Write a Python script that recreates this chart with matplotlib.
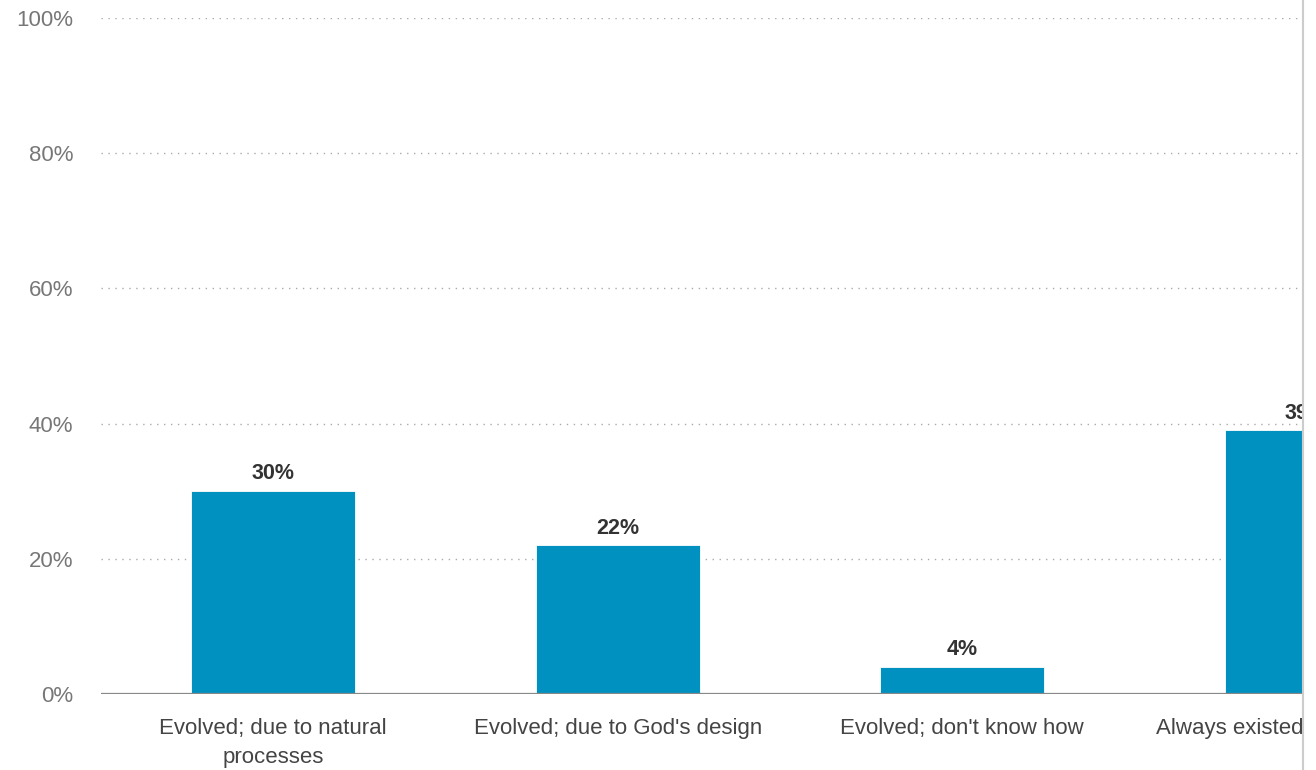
import matplotlib.pyplot as plt
from matplotlib.transforms import Bbox, blended_transform_factory
from matplotlib.lines import Line2D

categories = ["Evolved; due to natural\nprocesses", "Evolved; due to God's design",
              "Evolved; don't know how", "Always existed in present form"]
values = [30, 22, 4, 39]
yticks = [0, 20, 40, 60, 80, 100]

plt.rcParams['font.family'] = ['Liberation Sans', 'DejaVu Sans']

W, H = 1316, 770
fig = plt.figure(figsize=(W / 100, H / 100), dpi=100)
ax = fig.add_axes([101 / W, 76 / H, (1302 - 101) / W, (694 - 18) / H])

x = list(range(len(values)))
ax.bar(x, values, width=0.476, color="#0091c1", edgecolor="white", linewidth=0.6, zorder=3)

# value labels (clipped at the right edge like the original)
for xi, v in zip(x, values):
    ax.text(xi, v + 1.0, f"{v}%", ha="center", va="bottom", fontsize=15.5,
            fontweight="bold", color="#333333", clip_on=True, zorder=4)

ax.set_xlim(-0.5, 2.987)
ax.set_ylim(0, 100)

ax.set_yticks(yticks)
ax.set_yticklabels([f"{t}%" for t in yticks], fontsize=16, color="#777777")
ax.tick_params(axis="y", length=0, pad=20)
ax.set_xticks([])

for t in yticks[1:]:
    ax.axhline(t, color="#aaaaaa", linestyle=(0, (1, 4)), linewidth=1, zorder=1)
ax.axhline(0, color="#888888", linewidth=1.6, zorder=5)

for s in ax.spines.values():
    s.set_visible(False)

# category labels, clipped by the panel border on the right
clip = Bbox.from_extents(0, 0, 1302, H)
trans = blended_transform_factory(ax.transData, ax.transAxes)
for xi, lab in zip(x, categories):
    t = ax.text(xi, -0.035, lab, transform=trans, ha="center", va="top",
                fontsize=16, color="#444444", linespacing=1.5)
    t.set_clip_box(clip)
    t.set_clip_on(True)

fig.add_artist(Line2D([1302.5 / W, 1302.5 / W], [0, 1], color="#cccccc", linewidth=1.5))

fig.savefig("out.png", dpi=100, facecolor="white")
